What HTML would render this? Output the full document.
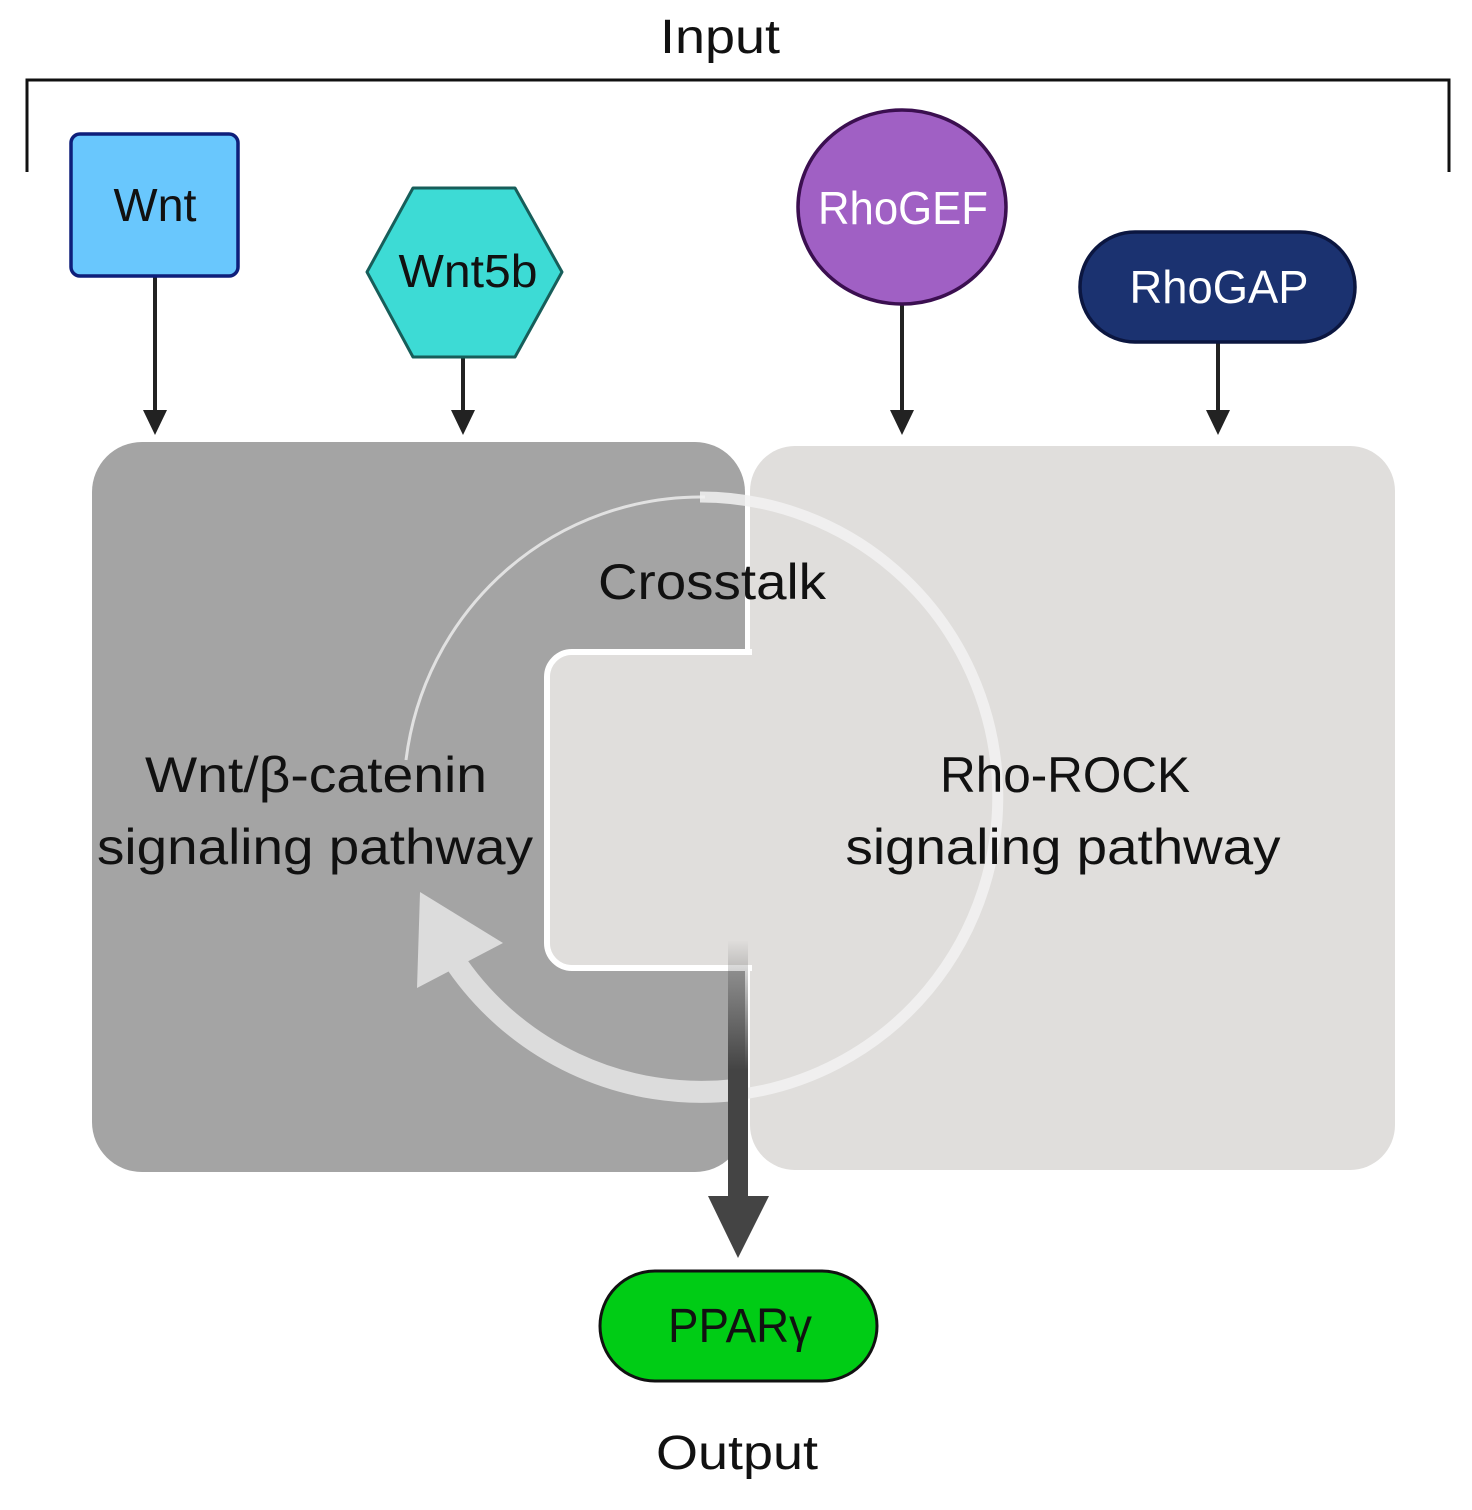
<!DOCTYPE html>
<html><head><meta charset="utf-8"><style>
html,body{margin:0;padding:0;background:#fff;}
svg{display:block;}
text{font-family:"Liberation Sans",Arial,sans-serif;}
</style></head><body>
<svg width="1472" height="1510" viewBox="0 0 1472 1510" xmlns="http://www.w3.org/2000/svg">
<defs>
<linearGradient id="sg" x1="0" y1="940" x2="0" y2="1070" gradientUnits="userSpaceOnUse">
<stop offset="0" stop-color="#444" stop-opacity="0"/>
<stop offset="1" stop-color="#444"/>
</linearGradient>
</defs>
<text x="720" y="53" font-size="48" text-anchor="middle" fill="#111" textLength="120" lengthAdjust="spacingAndGlyphs">Input</text>
<polyline points="27,172 27,80 1449,80 1449,172" fill="none" stroke="#111" stroke-width="3"/>

<g stroke="#222" stroke-width="4">
<line x1="155" y1="276" x2="155" y2="414"/>
<line x1="463" y1="357" x2="463" y2="414"/>
<line x1="902" y1="305" x2="902" y2="414"/>
<line x1="1218" y1="342" x2="1218" y2="414"/>
</g>
<g fill="#222">
<polygon points="143,410 167,410 155,435"/>
<polygon points="451,410 475,410 463,435"/>
<polygon points="890,410 914,410 902,435"/>
<polygon points="1206,410 1230,410 1218,435"/>
</g>

<rect x="71" y="134" width="167" height="142" rx="9" fill="#69c7fd" stroke="#0e1f7a" stroke-width="3.5"/>
<text x="155" y="221" font-size="46" text-anchor="middle" fill="#111" textLength="83" lengthAdjust="spacingAndGlyphs">Wnt</text>
<polygon points="367,272 413,188 515,188 562,272 515,357 413,357" fill="#3ddbd5" stroke="#175e5a" stroke-width="3" stroke-linejoin="round"/>
<text x="468" y="287" font-size="46" text-anchor="middle" fill="#111" textLength="139" lengthAdjust="spacingAndGlyphs">Wnt5b</text>
<ellipse cx="902" cy="207" rx="104" ry="97" fill="#a060c4" stroke="#3b0f50" stroke-width="3.5"/>
<text x="903" y="224" font-size="46" text-anchor="middle" fill="#fff" textLength="170" lengthAdjust="spacingAndGlyphs">RhoGEF</text>
<rect x="1080" y="232" width="275" height="110" rx="55" fill="#1b3270" stroke="#0b1640" stroke-width="3.5"/>
<text x="1219" y="303" font-size="46" text-anchor="middle" fill="#fff" textLength="179" lengthAdjust="spacingAndGlyphs">RhoGAP</text>

<rect x="92" y="442" width="653" height="730" rx="50" fill="#a4a4a4"/>
<rect x="750" y="446" width="645" height="724" rx="45" fill="#e0dedc"/>
<rect x="547" y="652" width="240" height="316" rx="25" fill="#e0dedc" stroke="#fff" stroke-width="6"/>
<rect x="752" y="600" width="60" height="400" fill="#e0dedc"/>
<rect x="550" y="655" width="250" height="310" rx="22" fill="#e0dedc"/>

<path d="M 406 760 A 297 300 0 0 1 705 497" fill="none" stroke="#ececec" stroke-opacity="0.85" stroke-width="3"/>
<path d="M 700 497 A 297 300 0 0 1 735 1095" fill="none" stroke="#f2f2f2" stroke-opacity="0.85" stroke-width="11"/>
<path d="M 735 1090 A 297 295 0 0 1 452 957" fill="none" stroke="#dcdcdc" stroke-width="22"/>
<polygon points="420,892 503,943 417,988" fill="#dcdcdc"/>

<rect x="728" y="940" width="20" height="260" fill="url(#sg)"/>
<polygon points="708,1196 769,1196 738,1258" fill="#444"/>

<text x="712" y="599" font-size="50" text-anchor="middle" fill="#111" textLength="228" lengthAdjust="spacingAndGlyphs">Crosstalk</text>
<text x="316" y="792" font-size="50" text-anchor="middle" fill="#111" textLength="342" lengthAdjust="spacingAndGlyphs">Wnt/β-catenin</text>
<text x="315" y="864" font-size="50" text-anchor="middle" fill="#111" textLength="436" lengthAdjust="spacingAndGlyphs">signaling pathway</text>
<text x="1065" y="792" font-size="50" text-anchor="middle" fill="#111" textLength="250" lengthAdjust="spacingAndGlyphs">Rho-ROCK</text>
<text x="1063" y="864" font-size="50" text-anchor="middle" fill="#111" textLength="435" lengthAdjust="spacingAndGlyphs">signaling pathway</text>

<rect x="600" y="1271" width="277" height="110" rx="55" fill="#00cc15" stroke="#111" stroke-width="3"/>
<text x="740" y="1342" font-size="48" text-anchor="middle" fill="#111" textLength="144" lengthAdjust="spacingAndGlyphs">PPARγ</text>
<text x="737" y="1469" font-size="48" text-anchor="middle" fill="#111" textLength="162" lengthAdjust="spacingAndGlyphs">Output</text>
</svg>
</body></html>
